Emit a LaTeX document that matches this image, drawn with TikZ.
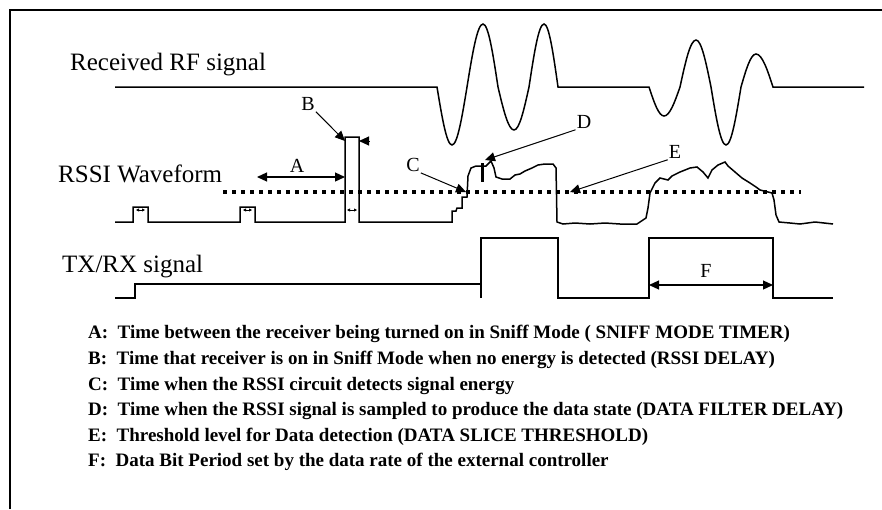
\documentclass[tikz,border=0pt]{standalone}
\usepackage{fontspec}
\setmainfont{Liberation Serif}
\usetikzlibrary{arrows.meta}

\begin{document}
\begin{tikzpicture}[x=1pt,y=-1pt]
  \tikzset{sig/.style={line width=1.5pt, line join=miter},
    lead/.style={line width=1pt, -{Triangle[length=10pt,width=9pt]}},
    dim/.style={line width=1.2pt, {Triangle[length=10pt,width=9pt]}-{Triangle[length=10pt,width=9pt]}},
    tiny dim/.style={line width=0.8pt, {Triangle[length=3pt,width=3pt]}-{Triangle[length=3pt,width=3pt]}},
    title/.style={font=\fontsize{25}{29}\selectfont, anchor=base west, inner sep=0pt},
    tag/.style={font=\fontsize{20}{23}\selectfont, inner sep=1pt},
    key/.style={font=\bfseries\fontsize{19}{22}\selectfont, anchor=base west, inner sep=0pt}}
  \useasboundingbox (0,0) rectangle (882,509);
  \draw[line width=2pt] (10,509) -- (10,10) -- (882,10);
  % signal names
  \node[title] (rf) at (70,70) {Received RF signal};
  \node[title] (rssi) at (58,182) {RSSI Waveform};
  \node[title] (txrx) at (62,272) {TX/RX signal};
  % received RF
  \draw[sig] (115,87) -- (437,87) sin (452,145) cos (467,87) sin (483,24) cos (498,87)
    sin (514,130) cos (529,87) sin (544,24) cos (558,87) -- (649,87)
    sin (664,116) cos (680,87) sin (696,40) cos (711,87) sin (726,145) cos (741,87)
    sin (756,54) cos (773,87) -- (864,87);
  % threshold
  \draw[line width=4pt, dash pattern=on 4pt off 5pt] (223,192) -- (801,192);
  % RSSI
  \draw[sig] (115,222) -- (133,222) -- (133,207) -- (148,207) -- (148,222)
    -- (240,222) -- (240,207) -- (255,207) -- (255,222)
    -- (345,222) -- (345,137) -- (359,137) -- (359,222)
    -- (452,222) -- (452,211) -- (456,211) -- (457,208) -- (462,208) -- (462,197)
    -- (467,197) -- (468,176) -- (471,168) -- (476,166) -- (486,166) -- (491,161)
    -- (494,168) -- (496,177) -- (502,179) -- (510,179) -- (515,175) -- (520,174)
    -- (525,171) -- (532,168) -- (538,165) -- (545,164) -- (553,164) -- (556,168)
    -- (557,222) -- (563,224) -- (575,223) -- (590,224) -- (605,223) -- (620,224)
    -- (637,224) -- (646,218) -- (648,208) -- (650,193) -- (655,183) -- (660,178)
    -- (668,180) -- (672,176) -- (680,172) -- (690,168) -- (697,167) -- (703,172)
    -- (708,178) -- (712,170) -- (718,165) -- (725,162) -- (728,166) -- (735,172)
    -- (742,178) -- (750,183) -- (756,187) -- (760,190) -- (772,193) -- (774,200)
    -- (776,215) -- (779,222) -- (790,223) -- (800,224) -- (815,222) -- (833,224);
  \draw[line width=3pt] (482,163) -- (482,182);
  % small marks in the pulses
  \draw[tiny dim] (136,210) -- (145,210);
  \draw[tiny dim] (243,210) -- (252,210);
  \draw[tiny dim] (347,210) -- (357,210);
  % TX/RX
  \draw[sig] (115,298) -- (135,298) -- (135,284) -- (481,284);
  \draw[sig] (481,298) -- (481,238) -- (558,238) -- (558,298) -- (649,298)
    -- (649,238) -- (773,238) -- (773,298) -- (833,298);
  % A
  \coordinate (a1) at (257,177);
  \coordinate (a2) at (345,177);
  \draw[dim] (a1) -- (a2);
  \node[tag] (lA) at (297,166) {A};
  % B
  \coordinate (b1) at (345,141);
  \coordinate (b2) at (359,141);
  \coordinate (b3) at (369,141);
  \node[tag] (lB) at (308,104) {B};
  \draw[lead] (lB.south east) -- (b1);
  \draw[lead] (b3) -- (b2);
  % C
  \node[tag] (lC) at (413,165) {C};
  \coordinate (c1) at (466,192);
  \draw[lead] (lC.south east) -- (c1);
  % D
  \node[tag] (lD) at (584,122) {D};
  \coordinate (d1) at (485,160);
  \draw[lead] (lD.south west) -- (d1);
  % E
  \node[tag] (lE) at (675,152) {E};
  \coordinate (e1) at (570,192);
  \draw[lead] (lE.south west) -- (e1);
  % F
  \coordinate (f1) at (649,285);
  \coordinate (f2) at (773,285);
  \draw[dim] (f1) -- (f2);
  \node[tag] (lF) at (706,271) {F};
  % key
  \node[key] (kA) at (88,338) {A:\ \ Time between the receiver being turned on in Sniff Mode ( SNIFF MODE TIMER)};
  \node[key] (kB) at (88,364) {B:\ \ Time that receiver is on in Sniff Mode when no energy is detected (RSSI DELAY)};
  \node[key] (kC) at (88,390) {C:\ \ Time when the RSSI circuit detects signal energy};
  \node[key] (kD) at (88,415) {D:\ \ Time when the RSSI signal is sampled to produce the data state (DATA FILTER DELAY)};
  \node[key] (kE) at (88,441) {E:\ \ Threshold level for Data detection (DATA SLICE THRESHOLD)};
  \node[key] (kF) at (88,466) {F:\ \ Data Bit Period set by the data rate of the external controller};
\end{tikzpicture}
\end{document}
